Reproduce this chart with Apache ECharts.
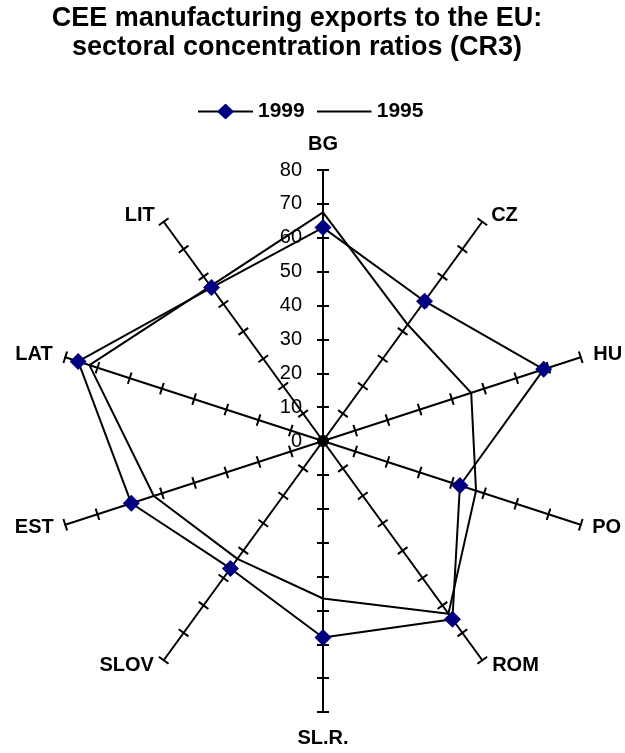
<!DOCTYPE html>
<html>
<head>
<meta charset="utf-8">
<script src="https://cdn.jsdelivr.net/npm/echarts@6/dist/echarts.min.js"></script>
<style>html,body{margin:0;padding:0;background:#fff}#c{width:625px;height:753px}</style>
</head>
<body>
<div id="c"></div>
<script>
// Data (clockwise from top)
const categories = ['BG', 'CZ', 'HU', 'PO', 'ROM', 'SL.R.', 'SLOV', 'EST', 'LAT', 'LIT'];
const values1999 = [63, 51, 68.5, 42.5, 65, 58, 46.5, 59.5, 76, 56];
const values1995 = [67.5, 42.5, 46, 47.5, 63, 46.5, 43, 52.5, 72.5, 56.5];
const tickLabels = ['0', '10', '20', '30', '40', '50', '60', '70', '80'];
const axisMax = 80;

// ECharts radar places indicators counter-clockwise; reorder to draw clockwise
function ccw(arr) { return [arr[0]].concat(arr.slice(1).reverse()); }

const FONT = 'Liberation Sans, Arial, sans-serif';
const svg1999 = '<svg xmlns="http://www.w3.org/2000/svg" width="55" height="16"><line x1="0" y1="8" x2="55" y2="8" stroke="black" stroke-width="2"/><polygon points="27.5,0 36,8 27.5,16 19,8" fill="#000080"/></svg>';
const svg1995 = '<svg xmlns="http://www.w3.org/2000/svg" width="55" height="16"><line x1="0" y1="8" x2="55" y2="8" stroke="black" stroke-width="2"/></svg>';
const icon = s => 'image://data:image/svg+xml;charset=utf-8,' + encodeURIComponent(s);

// label nudges (rich styles) per indicator position
const nameFont = { fontFamily: FONT, fontWeight: 'bold', fontSize: 20, color: '#000' };
const rich = {
  t: Object.assign({ padding: [0, 0, 6, 0] }, nameFont),
  b: Object.assign({ padding: [6, 0, 0, 0] }, nameFont),
  r1: Object.assign({ padding: [4, 0, 0, 3] }, nameFont),
  r2: Object.assign({ padding: [0, 0, 0, 3] }, nameFont),
  r3: Object.assign({ padding: [0, 0, 0, 2] }, nameFont),
  r4: Object.assign({ padding: [0, 0, 6, 4] }, nameFont),
  l4: Object.assign({ padding: [0, 4, 6, 0] }, nameFont),
  l3: Object.assign({ padding: [0, 2, 0, 0] }, nameFont),
  l2: Object.assign({ padding: [0, 3, 0, 0] }, nameFont),
  l1: Object.assign({ padding: [4, 3, 0, 0] }, nameFont)
};
const styleKeys = ['t', 'r1', 'r2', 'r3', 'r4', 'b', 'l4', 'l3', 'l2', 'l1'];

const indicators = ccw(categories).map(n => ({ name: n, min: 0, max: axisMax }));
const baseRadar = {
  indicator: indicators,
  center: [323, 441],
  radius: 271,
  startAngle: 90,
  splitNumber: tickLabels.length - 1,
  shape: 'polygon',
  splitLine: { show: false },
  splitArea: { show: false },
  axisLabel: { show: false }
};

const chart = echarts.init(document.getElementById('c'), null, { renderer: 'canvas' });
chart.setOption({
  backgroundColor: '#fff',
  animation: false,
  title: {
    text: 'CEE manufacturing exports to the EU:\nsectoral concentration ratios (CR3)',
    left: 297,
    top: 4,
    padding: 0,
    textAlign: 'center',
    textStyle: { fontFamily: FONT, fontWeight: 'bold', fontSize: 27, lineHeight: 29, color: '#000' }
  },
  legend: {
    left: 198,
    top: 101,
    padding: 0,
    itemWidth: 55,
    itemHeight: 16,
    itemGap: 12,
    selectedMode: false,
    textStyle: { fontFamily: FONT, fontWeight: 'bold', fontSize: 21, color: '#000' },
    data: [{ name: '1999', icon: icon(svg1999) }, { name: '1995', icon: icon(svg1995) }]
  },
  grid: { left: 323, top: 170, width: 10, height: 271 },
  xAxis: { type: 'value', show: false },
  yAxis: {
    type: 'value', min: 0, max: axisMax, interval: axisMax / (tickLabels.length - 1),
    axisLine: { show: false }, axisTick: { show: false }, splitLine: { show: false },
    axisLabel: { fontFamily: FONT, fontSize: 20, color: '#000', margin: 21,
      formatter: (v, i) => tickLabels[i] }
  },
  radar: [
    Object.assign({}, baseRadar, {
      axisName: Object.assign({
        rich: rich,
        formatter: function (name) {
          const k = styleKeys[categories.indexOf(name)];
          return '{' + k + '|' + name + '}';
        }
      }, nameFont),
      nameGap: 10,
      axisLine: { show: true, lineStyle: { color: '#000', width: 2 } },
      axisTick: { show: true, length: 6, lineStyle: { color: '#000', width: 2 } }
    }),
    Object.assign({}, baseRadar, {
      axisName: { show: false },
      axisLine: { show: false },
      axisTick: { show: true, length: -6, lineStyle: { color: '#000', width: 2 } }
    })
  ],
  series: [
    {
      name: '1995', type: 'radar', radarIndex: 0, symbol: 'none', z: 3,
      lineStyle: { color: '#000', width: 2 },
      itemStyle: { color: '#000' },
      data: [{ name: '1995', value: ccw(values1995) }]
    },
    {
      name: '1999', type: 'radar', radarIndex: 0, symbol: 'diamond', symbolSize: [17, 17], z: 4,
      lineStyle: { color: '#000', width: 2 },
      itemStyle: { color: '#000080' },
      data: [{ name: '1999', value: ccw(values1999) }]
    }
  ]
});
</script>
</body>
</html>
